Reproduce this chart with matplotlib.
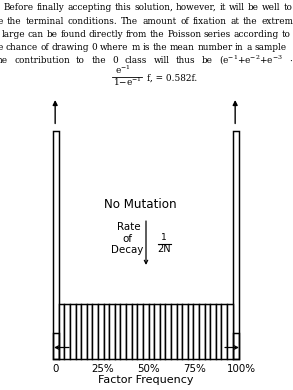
import numpy as np
import matplotlib
matplotlib.use("Agg")
import matplotlib.pyplot as plt
from matplotlib.lines import Line2D

plt.rcParams['mathtext.fontset'] = 'dejavuserif'
plt.rcParams['mathtext.default'] = 'regular'

# ---------------- data ----------------
text_lines = [
    "Before finally accepting this solution, however, it will be well to",
    "e the terminal conditions.  The amount of fixation at the extreme",
    "large can be found directly from the Poisson series according to",
    "e chance of drawing 0 where m is the mean number in a sample",
    "he contribution to the 0 class will thus be (e$^{-1}$+e$^{-2}$+e$^{-3}$ \u00b7",
]
formula_num = "e$^{-1}$"
formula_den = "1$-$e$^{-1}$"
formula_rest = "f, = 0.582f."

# frequency classes (percent); terminal classes at 0% and 100%
terminal_pos = [0, 100]
terminal_height = [4.14, 4.14]      # truncated (fixation classes, arrows)
terminal_class0 = [0.47, 0.47]      # contribution marked inside terminal bars
interior_values = [1.0, 1.0, 1.0, 1.0, 1.0, 1.0, 1.0, 1.0, 1.0, 1.0, 1.0,
                   1.0, 1.0, 1.0, 1.0, 1.0, 1.0, 1.0, 1.0, 1.0, 1.0, 1.0,
                   1.0, 1.0, 1.0, 1.0, 1.0, 1.0, 1.0, 1.0, 1.0]
tick_values = [0, 25, 50, 75, 100]
tick_labels = ["0", "25%", "50%", "75%", "100%"]
xlabel = "Factor Frequency"
title_text = "No Mutation"
decay_words = ["Rate", "of", "Decay"]
decay_num, decay_den = "1", "2N"

# ---------------- layout ----------------
W, H, DPI = 293, 390, 100
fig = plt.figure(figsize=(W / DPI, H / DPI), dpi=DPI)
fig.patch.set_facecolor("white")

def fx(x):
    return x / W

def fy(y):
    return 1 - y / H

# justified paragraph; font size fitted so that the first line fills the width
serif = "DejaVu Serif"
renderer = fig.canvas.get_renderer()
probe = fig.text(0, 0, text_lines[0], fontsize=10, family=serif)
natural = probe.get_window_extent(renderer).width
probe.remove()
fs_text = 10 * 287.0 / natural

line_base = [10.0, 23.5, 36.8, 50.0, 63.3]
line_lr = [(3.3, 292.5), (-2.5, 299.0), (1.7, 290.5), (-2.5, 286.5), (-3.5, 292.5)]
for line, yb, (l, r) in zip(text_lines, line_base, line_lr):
    words = line.split()
    arts = [fig.text(0, 0, w, fontsize=fs_text, family=serif,
                     ha="left", va="baseline") for w in words]
    widths = [a.get_window_extent(renderer).width for a in arts]
    gap = (r - l - sum(widths)) / (len(words) - 1)
    x = l
    for a, w in zip(arts, widths):
        a.set_position((fx(x), fy(yb)))
        x += w + gap

# displayed formula
fig.text(fx(123), fy(73.5), formula_num, fontsize=fs_text, family=serif,
         ha="center", va="baseline")
fig.add_artist(Line2D([fx(112), fx(142)], [fy(77), fy(77)], color="black", lw=0.6))
fig.text(fx(127), fy(86.5), formula_den, fontsize=fs_text, family=serif,
         ha="center", va="baseline")
fig.text(fx(147), fy(81), formula_rest, fontsize=fs_text, family=serif,
         ha="left", va="baseline")

# diagram axes mapped onto the figure
X0, SX = 55.7, 1.8     # px of 0%, px per percent
Y0, SY = 359.0, 55.0   # px of baseline, px per unit height
ax = fig.add_axes([0, 0, 1, 1])
ax.set_xlim(-X0 / SX, (W - X0) / SX)
ax.set_ylim((Y0 - H) / SY, Y0 / SY)
ax.axis("off")

def px(x):
    return (x - X0) / SX

def py(y):
    return (Y0 - y) / SY

lw = 1.05
term_w = 6.0 / SX
ax.bar(terminal_pos, terminal_height, width=term_w, color="white",
       edgecolor="black", linewidth=lw, zorder=2)
ax.bar(terminal_pos, terminal_class0, width=term_w, color="none",
       edgecolor="black", linewidth=lw, zorder=3)

left_edge = terminal_pos[0] + term_w / 2
right_edge = terminal_pos[1] - term_w / 2
n = len(interior_values)
edges = np.linspace(left_edge, right_edge, n + 1)
centers = (edges[:-1] + edges[1:]) / 2
ax.bar(centers, interior_values, width=edges[1] - edges[0], color="white",
       edgecolor="black", linewidth=lw, zorder=2)

# arrows on top of the terminal bars
for p in terminal_pos:
    ax.annotate("", xy=(p - 0.3, py(100)), xytext=(p - 0.3, py(123.5)),
                arrowprops=dict(arrowstyle="-|>", color="black", lw=1.0,
                                mutation_scale=7, shrinkA=0, shrinkB=0))

# small horizontal arrows inside the terminal bars
ax.annotate("", xy=(px(54.0), py(347.5)), xytext=(px(69.0), py(347.5)),
            arrowprops=dict(arrowstyle="->", color="black", lw=0.9,
                            mutation_scale=6, shrinkA=0, shrinkB=0))
ax.annotate("", xy=(px(239.0), py(347.5)), xytext=(px(225.0), py(347.5)),
            arrowprops=dict(arrowstyle="->", color="black", lw=0.9,
                            mutation_scale=6, shrinkA=0, shrinkB=0))

# hand-lettered annotations
hand = "DejaVu Sans"
ax.text(px(140.5), py(204), title_text, fontsize=8.6, family=hand,
        ha="center", va="center")
for w, (xx, yy) in zip(decay_words, [(128.5, 227), (127.5, 239), (127.5, 250)]):
    ax.text(px(xx), py(yy), w, fontsize=7.4, family=hand, ha="center", va="center")
ax.annotate("", xy=(px(146), py(265)), xytext=(px(146), py(221)),
            arrowprops=dict(arrowstyle="->", color="black", lw=0.9,
                            mutation_scale=6, shrinkA=0, shrinkB=0))
ax.text(px(164), py(238), decay_num, fontsize=6.5, family=hand, ha="center", va="center")
ax.plot([px(158), px(171)], [py(243.5), py(243.5)], color="black", lw=0.8)
ax.text(px(164.5), py(249.5), decay_den, fontsize=7.0, family=hand, ha="center", va="center")

# tick labels and axis label
tick_offsets_px = [0.0, 2.0, 3.0, 4.0, 6.0]
for v, lab, off in zip(tick_values, tick_labels, tick_offsets_px):
    ax.text(v + off / SX, py(369), lab, fontsize=7.4, family=hand,
            ha="center", va="center")
ax.text(px(145.5), py(380), xlabel, fontsize=8.0, family=hand,
        ha="center", va="center")

fig.savefig("out.png", dpi=DPI, facecolor="white")
